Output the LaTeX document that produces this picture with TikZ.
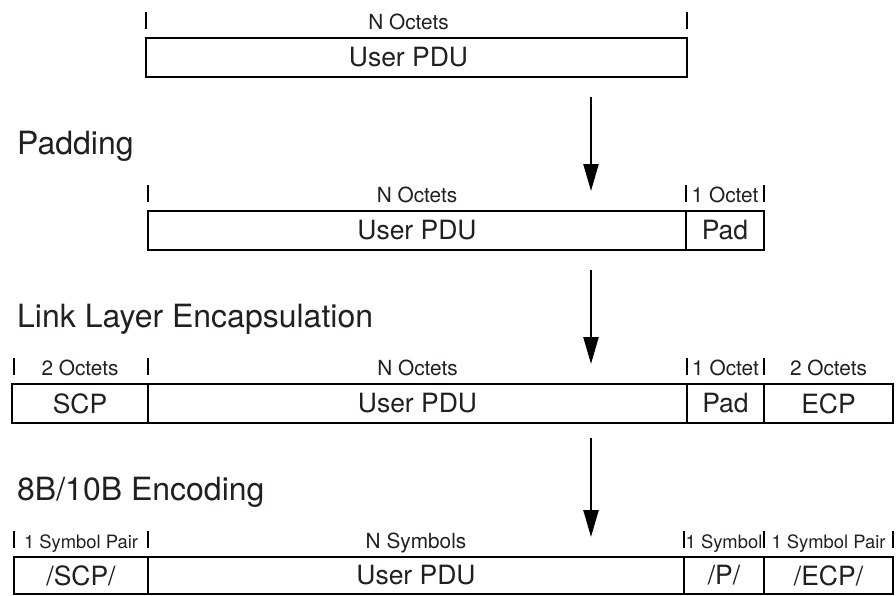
\documentclass[tikz,border=0pt]{standalone}
\usepackage{fontspec}
\setmainfont{TeX Gyre Heros}
\usetikzlibrary{arrows.meta,positioning}
\definecolor{ink}{HTML}{231F20}

\begin{document}
\begin{tikzpicture}[x=1pt,y=-1pt,
			cell/.style={draw=black,line width=1.8pt,outer sep=0pt,inner sep=0pt,anchor=north west,minimum height=39pt,text=ink,font=\fontsize{26.5}{30}\selectfont},
			heading/.style={anchor=base west,inner sep=0pt,text=ink,font=\fontsize{32}{36}\selectfont},
			len/.style={inner sep=0pt,text=ink,font=\fontsize{20.8}{24}\selectfont},
			lensm/.style={inner sep=0pt,text=ink,font=\fontsize{18.4}{22}\selectfont},
			tick/.style={draw=black,line width=2.8pt},
			flow/.style={draw=black,line width=2.4pt,-{Triangle[length=27pt,width=15pt]}}]
			\useasboundingbox (0,0) rectangle (896,595);
			% user data
			\node [cell,minimum width=541pt] (pduA) at (146,38) {\hspace*{-16pt}User PDU};
				\node [len,above=9pt of pduA.north,anchor=base,xshift=-8pt] (lenpduA) {N Octets};
				\draw [tick] ([yshift=9pt]pduA.north west) -- ++(0pt,17pt);
				\draw [tick] ([yshift=9pt]pduA.north east) -- ++(0pt,17pt);
			\coordinate (arrA1) at (591,97); \coordinate (arrA2) at (591,191);
			\draw [flow] (arrA1) -- (arrA2);
			% padding
			\node [heading] (hPad) at (17,154) {Padding};
			\node [cell,minimum width=538pt] (pduB) at (148,211) {User PDU};
			\node [cell,minimum width=78pt] (padB) at (686,211) {Pad};
				\node [len,above=9pt of pduB.north,anchor=base] (lenpduB) {N Octets};
				\node [len,above=9pt of padB.north,anchor=base] (lenpadB) {1 Octet};
				\draw [tick] ([yshift=9pt]pduB.north west) -- ++(0pt,17pt);
				\draw [tick] ([yshift=9pt]padB.north west) -- ++(0pt,17pt);
				\draw [tick] ([yshift=9pt]padB.north east) -- ++(0pt,17pt);
			\coordinate (arrB1) at (591,270); \coordinate (arrB2) at (591,364);
			\draw [flow] (arrB1) -- (arrB2);
			% link layer
			\node [heading] (hLink) at (17,327) {Link Layer Encapsulation};
			\node [cell,minimum width=136pt] (scpC) at (12,384) {SCP};
			\node [cell,minimum width=539pt] (pduC) at (148,384) {User PDU};
			\node [cell,minimum width=77pt] (padC) at (687,384) {Pad};
			\node [cell,minimum width=129pt] (ecpC) at (764,384) {ECP};
				\node [len,above=9pt of scpC.north,anchor=base] (lenscpC) {2 Octets};
				\node [len,above=9pt of pduC.north,anchor=base] (lenpduC) {N Octets};
				\node [len,above=9pt of padC.north,anchor=base] (lenpadC) {1 Octet};
				\node [len,above=9pt of ecpC.north,anchor=base] (lenecpC) {2 Octets};
				\draw [tick] ([xshift=2pt,yshift=9pt]scpC.north west) -- ++(0pt,17pt);
				\draw [tick] ([yshift=9pt]pduC.north west) -- ++(0pt,17pt);
				\draw [tick] ([yshift=9pt]padC.north west) -- ++(0pt,17pt);
				\draw [tick] ([yshift=9pt]padC.north east) -- ++(0pt,17pt);
			\coordinate (arrC1) at (591,438); \coordinate (arrC2) at (591,537);
			\draw [flow] (arrC1) -- (arrC2);
			% 8b/10b
			\node [heading] (hCode) at (17,500) {8B/10B Encoding};
			\node [cell,minimum height=37pt,minimum width=134pt] (scpD) at (14,557) {/SCP/};
			\node [cell,minimum height=37pt,minimum width=536pt] (pduD) at (148,557) {User PDU};
			\node [cell,minimum height=37pt,minimum width=80pt] (padD) at (684,557) {/P/};
			\node [cell,minimum height=37pt,minimum width=129pt] (ecpD) at (764,557) {/ECP/};
				\node [lensm,above=9pt of scpD.north,anchor=base] (lenscpD) {1 Symbol Pair};
				\node [len,above=9pt of pduD.north,anchor=base] (lenpduD) {N Symbols};
				\node [lensm,above=9pt of padD.north,anchor=base] (lenpadD) {1 Symbol};
				\node [lensm,above=9pt of ecpD.north,anchor=base] (lenecpD) {1 Symbol Pair};
				\draw [tick] ([yshift=9pt]scpD.north west) -- ++(0pt,17pt);
				\draw [tick] ([yshift=9pt]pduD.north west) -- ++(0pt,17pt);
				\draw [tick] ([yshift=9pt]padD.north west) -- ++(0pt,17pt);
				\draw [tick] ([yshift=9pt]padD.north east) -- ++(0pt,17pt);
				\draw [tick] ([yshift=9pt]ecpD.north east) -- ++(0pt,17pt);
\end{tikzpicture}
\end{document}
